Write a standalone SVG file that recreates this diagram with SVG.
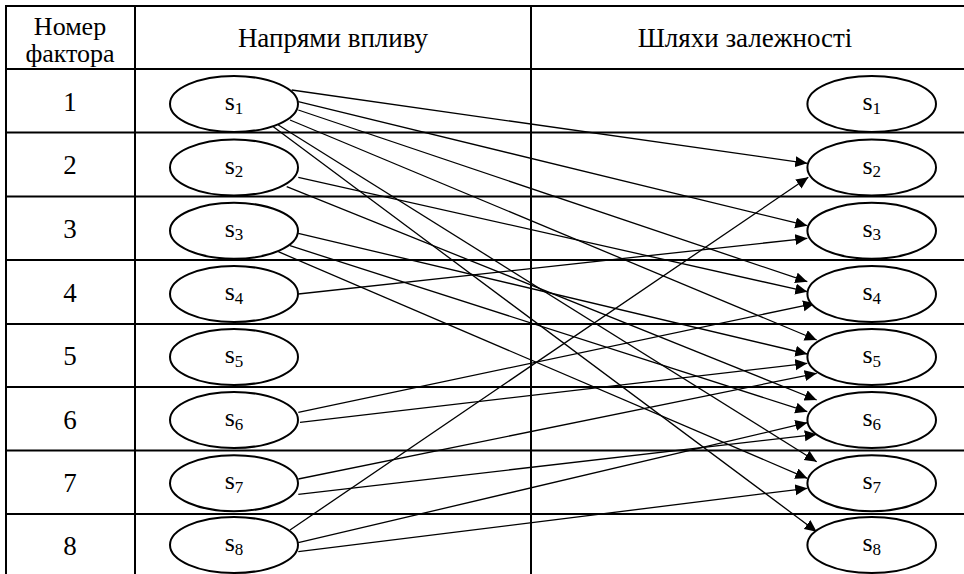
<svg xmlns="http://www.w3.org/2000/svg" width="964" height="574" viewBox="0 0 964 574">
  <defs>
    <marker id="arrow" markerUnits="userSpaceOnUse" markerWidth="13" markerHeight="12" refX="12" refY="5.5" orient="auto">
      <path d="M0,0 L12,5.5 L0,11 z" fill="#000"/>
    </marker>
    <style>
      .grid { stroke: #000; stroke-width: 2; fill: none; }
      .txt { font-family: "Liberation Serif", "Times New Roman", serif; font-size: 27px; fill: #000; }
      .hd2 { font-size: 26px; }
      .node ellipse { fill: #fff; stroke: #000; stroke-width: 2; }
      .lbl { font-family: "Liberation Serif", "Times New Roman", serif; font-size: 26px; fill: #000; text-anchor: middle; }
      .sub { font-size: 17px; }
      .edge { stroke: #000; stroke-width: 1.3; fill: none; marker-end: url(#arrow); }
    </style>
  </defs>

  <rect width="964" height="574" fill="#fff"/>

  <!-- table grid -->
  <g id="table">
    <g class="grid">
      <line x1="5" y1="6" x2="964" y2="6"/>
      <line x1="5" y1="69" x2="964" y2="69"/>
      <line x1="5" y1="132.5" x2="964" y2="132.5"/>
      <line x1="5" y1="196.5" x2="964" y2="196.5"/>
      <line x1="5" y1="260" x2="964" y2="260"/>
      <line x1="5" y1="324" x2="964" y2="324"/>
      <line x1="5" y1="387" x2="964" y2="387"/>
      <line x1="5" y1="450.5" x2="964" y2="450.5"/>
      <line x1="5" y1="514" x2="964" y2="514"/>
      <line x1="6" y1="5" x2="6" y2="574"/>
      <line x1="135" y1="5" x2="135" y2="574"/>
      <line x1="531" y1="5" x2="531" y2="574"/>
    </g>
    <g class="txt" text-anchor="middle">
      <text class="hd2" x="70" y="35">Номер</text>
      <text class="hd2" x="70" y="62">фактора</text>
      <text x="333" y="46.5">Напрями впливу</text>
      <text x="745" y="46.5">Шляхи залежності</text>
      <text x="70" y="110.5">1</text>
      <text x="70" y="174">2</text>
      <text x="70" y="237.5">3</text>
      <text x="70" y="301.5">4</text>
      <text x="70" y="365">5</text>
      <text x="70" y="428.5">6</text>
      <text x="70" y="491.5">7</text>
      <text x="70" y="554.5">8</text>
    </g>
  </g>

  <!-- influence connectors -->
  <g id="connectors">
    <line class="edge" x1="291.7" y1="90" x2="807.3" y2="163.3"/>
    <line class="edge" x1="298.3" y1="101.7" x2="807.3" y2="225.7"/>
    <line class="edge" x1="298.3" y1="110" x2="807.3" y2="281.7"/>
    <line class="edge" x1="290" y1="120" x2="816.7" y2="340"/>
    <line class="edge" x1="278.3" y1="125" x2="816.7" y2="461.7"/>
    <line class="edge" x1="273.3" y1="126.7" x2="816.7" y2="531.7"/>
    <line class="edge" x1="298.3" y1="177.3" x2="807.3" y2="291.7"/>
    <line class="edge" x1="286.7" y1="186.7" x2="816.7" y2="400"/>
    <line class="edge" x1="298.3" y1="233.3" x2="807.3" y2="354"/>
    <line class="edge" x1="290" y1="245.7" x2="807.3" y2="411.7"/>
    <line class="edge" x1="278.3" y1="251.7" x2="807.3" y2="478.3"/>
    <line class="edge" x1="298.3" y1="294" x2="807.3" y2="238.3"/>
    <line class="edge" x1="298.3" y1="412.3" x2="815" y2="303.3"/>
    <line class="edge" x1="300" y1="422.3" x2="807.3" y2="363.3"/>
    <line class="edge" x1="298.3" y1="479" x2="816.7" y2="373.3"/>
    <line class="edge" x1="298.3" y1="494.3" x2="816.7" y2="434.3"/>
    <line class="edge" x1="290" y1="530" x2="808.3" y2="177.3"/>
    <line class="edge" x1="298.3" y1="542.7" x2="807.3" y2="422.7"/>
    <line class="edge" x1="298.3" y1="551.7" x2="807.3" y2="488.3"/>
  </g>

  <!-- source factors -->
  <g id="src-s1" class="node"><ellipse cx="234" cy="104" rx="64" ry="28"/><text class="lbl" x="234" y="110">s<tspan class="sub" dy="3.5">1</tspan></text></g>
  <g id="src-s2" class="node"><ellipse cx="234" cy="167.5" rx="64" ry="28"/><text class="lbl" x="234" y="173.5">s<tspan class="sub" dy="3.5">2</tspan></text></g>
  <g id="src-s3" class="node"><ellipse cx="234" cy="230.8" rx="64" ry="28"/><text class="lbl" x="234" y="236.8">s<tspan class="sub" dy="3.5">3</tspan></text></g>
  <g id="src-s4" class="node"><ellipse cx="234" cy="294" rx="64" ry="28"/><text class="lbl" x="234" y="300">s<tspan class="sub" dy="3.5">4</tspan></text></g>
  <g id="src-s5" class="node"><ellipse cx="234" cy="357" rx="64" ry="28"/><text class="lbl" x="234" y="363">s<tspan class="sub" dy="3.5">5</tspan></text></g>
  <g id="src-s6" class="node"><ellipse cx="234" cy="420" rx="64" ry="28"/><text class="lbl" x="234" y="426">s<tspan class="sub" dy="3.5">6</tspan></text></g>
  <g id="src-s7" class="node"><ellipse cx="234" cy="483.2" rx="64" ry="28"/><text class="lbl" x="234" y="489.2">s<tspan class="sub" dy="3.5">7</tspan></text></g>
  <g id="src-s8" class="node"><ellipse cx="234" cy="545" rx="64" ry="28"/><text class="lbl" x="234" y="551">s<tspan class="sub" dy="3.5">8</tspan></text></g>

  <!-- dependent factors -->
  <g id="dst-s1" class="node"><ellipse cx="871.7" cy="104" rx="64.3" ry="28"/><text class="lbl" x="871.7" y="110">s<tspan class="sub" dy="3.5">1</tspan></text></g>
  <g id="dst-s2" class="node"><ellipse cx="871.7" cy="167.5" rx="64.3" ry="28"/><text class="lbl" x="871.7" y="173.5">s<tspan class="sub" dy="3.5">2</tspan></text></g>
  <g id="dst-s3" class="node"><ellipse cx="871.7" cy="230.8" rx="64.3" ry="28"/><text class="lbl" x="871.7" y="236.8">s<tspan class="sub" dy="3.5">3</tspan></text></g>
  <g id="dst-s4" class="node"><ellipse cx="871.7" cy="294" rx="64.3" ry="28"/><text class="lbl" x="871.7" y="300">s<tspan class="sub" dy="3.5">4</tspan></text></g>
  <g id="dst-s5" class="node"><ellipse cx="871.7" cy="357" rx="64.3" ry="28"/><text class="lbl" x="871.7" y="363">s<tspan class="sub" dy="3.5">5</tspan></text></g>
  <g id="dst-s6" class="node"><ellipse cx="871.7" cy="420" rx="64.3" ry="28"/><text class="lbl" x="871.7" y="426">s<tspan class="sub" dy="3.5">6</tspan></text></g>
  <g id="dst-s7" class="node"><ellipse cx="871.7" cy="483.2" rx="64.3" ry="28"/><text class="lbl" x="871.7" y="489.2">s<tspan class="sub" dy="3.5">7</tspan></text></g>
  <g id="dst-s8" class="node"><ellipse cx="871.7" cy="545" rx="64.3" ry="28"/><text class="lbl" x="871.7" y="551">s<tspan class="sub" dy="3.5">8</tspan></text></g>
</svg>
